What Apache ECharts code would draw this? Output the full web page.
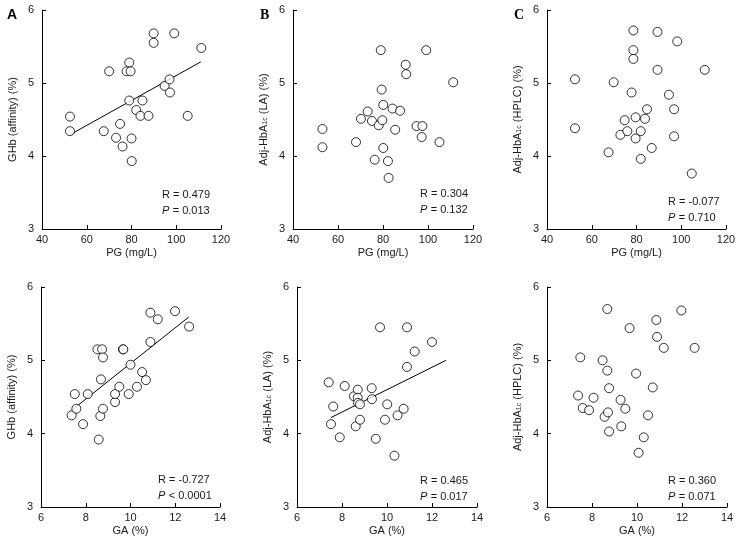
<!DOCTYPE html>
<html><head><meta charset="utf-8">
<script src="https://cdn.jsdelivr.net/npm/echarts@6/dist/echarts.min.js"></script>
<style>html,body{margin:0;padding:0;background:#fff}#c{width:744px;height:546px}</style>
</head><body><div id="c"></div>
<script>
// ---- data ----
const pgTicks = [40, 60, 80, 100, 120];
const gaTicks = [6, 8, 10, 12, 14];
const yTicks = [3, 4, 5, 6];

// Panel A: PG vs GHb (affinity)
const A_x = [52.5,52.5,70,67.6,74.9,73.1,76,79,77.8,79.6,79,80,80.1,82.1,84.9,84,87.6,89.9,89.9,94.8,97,97.2,99.1,105.1,111.2];
const A_y = [4.54,4.34,5.16,4.34,4.44,4.25,4.13,5.28,5.16,5.16,4.76,4.24,3.93,4.63,4.76,4.55,4.55,5.68,5.55,4.96,5.05,4.87,5.68,4.55,5.48];
const A_fitX = [53, 111];
const A_fitY = [4.30, 5.29];

// Panel B: PG vs Adj-HbA1c (LA)
const B_x = [53.1,53.1,68,70.2,73.2,75.1,76.3,78.1,79,79.4,79.7,80.1,80.1,82.2,82.5,84.2,85.4,87.6,90.1,90.3,94.9,97.5,97.2,99.2,105.1,111.2];
const B_y = [4.37,4.12,4.19,4.51,4.61,4.48,3.95,4.42,5.45,4.91,4.49,4.70,4.11,3.93,3.70,4.65,4.36,4.62,5.25,5.12,4.41,4.41,4.26,5.45,4.19,5.01];

// Panel C: PG vs Adj-HbA1c (HPLC)
const C_x = [52.5,52.5,67.5,69.8,72.8,74.7,75.9,77.8,78.6,78.6,78.6,79.6,79.6,81.9,81.9,83.8,84.7,86.8,89.4,89.4,94.5,96.8,96.8,98.2,104.7,110.5];
const C_y = [5.05,4.38,4.05,5.01,4.29,4.49,4.34,4.87,5.72,5.45,5.33,4.53,4.24,4.34,3.96,4.51,4.64,4.11,5.70,5.18,4.84,4.64,4.27,5.57,3.76,5.18];

// Panel D: GA vs GHb (affinity)
const D_x = [7.37,7.51,7.58,7.88,8.09,8.52,8.58,8.65,8.68,8.73,8.77,8.77,9.31,9.31,9.50,9.66,9.68,9.92,10.0,10.29,10.52,10.69,10.89,10.89,11.22,11.99,12.62];
const D_y = [4.25,4.54,4.34,4.13,4.54,5.15,3.92,4.24,4.74,5.15,5.04,4.34,4.43,4.54,4.64,5.15,5.15,4.54,4.94,4.64,4.84,4.73,5.25,5.65,5.56,5.67,5.46];
const D_fitX = [7.42, 12.6];
const D_fitY = [4.33, 5.59];

// Panel E: GA vs Adj-HbA1c (LA)
const E_x = [7.41,7.51,7.61,7.90,8.12,8.53,8.61,8.70,8.70,8.71,8.80,8.80,9.32,9.33,9.50,9.69,9.91,10.01,10.33,10.47,10.74,10.89,10.89,11.23,12.0];
const E_y = [4.70,4.13,4.37,3.95,4.65,4.51,4.10,4.60,4.49,4.42,4.40,4.19,4.62,4.47,3.93,5.45,4.19,4.40,3.70,4.25,4.34,4.91,5.45,5.12,5.25];
const E_fitX = [7.51, 12.62];
const E_fitY = [4.22, 5.0];

// Panel F: GA vs Adj-HbA1c (HPLC)
const F_x = [7.38,7.48,7.59,7.87,8.07,8.47,8.56,8.68,8.68,8.71,8.76,8.76,9.27,9.30,9.48,9.67,9.96,10.07,10.30,10.49,10.70,10.86,10.89,11.19,11.97,12.56];
const F_y = [4.52,5.04,4.35,4.32,4.49,5.00,4.23,5.70,4.86,4.29,4.62,4.03,4.46,4.10,4.34,5.44,4.82,3.74,3.95,4.25,4.63,5.55,5.32,5.17,5.68,5.17];

const panelLetters = ['A', 'B', 'C'];
const statsR = ['R = 0.479', 'R = 0.304', 'R = -0.077', 'R = -0.727', 'R = 0.465', 'R = 0.360'];
const statsP = ['= 0.013', '= 0.132', '= 0.710', '< 0.0001', '= 0.017', '= 0.071'];
const xNames = ['PG (mg/L)', 'PG (mg/L)', 'PG (mg/L)', 'GA (%)', 'GA (%)', 'GA (%)'];
const yNames = [
  'GHb (affinity) (%)',
  '{a|Adj-HbA}{s|1c}{a| (LA) (%)}',
  '{a|Adj-HbA}{s|1c}{a| (HPLC) (%)}',
  'GHb (affinity) (%)',
  '{a|Adj-HbA}{s|1c}{a| (LA) (%)}',
  '{a|Adj-HbA}{s|1c}{a| (HPLC) (%)}'
];

// ---- layout ----
const FONT = 'Liberation Sans';
const TXT = '#1a1a1a';
const grids = [
  {left: 42, top: 10, width: 179, height: 219},
  {left: 293, top: 10, width: 180, height: 219},
  {left: 547, top: 10, width: 179, height: 219},
  {left: 41, top: 287, width: 179, height: 220},
  {left: 297, top: 287, width: 180, height: 220},
  {left: 547, top: 287, width: 180, height: 220}
];
const xs = [A_x, B_x, C_x, D_x, E_x, F_x];
const ys = [A_y, B_y, C_y, D_y, E_y, F_y];
const fits = {0: [A_fitX, A_fitY], 3: [D_fitX, D_fitY], 4: [E_fitX, E_fitY]};

const axisLine = {show: true, onZero: false, lineStyle: {color: '#000', width: 1}};
const axisTick = {show: true, inside: true, length: 4, lineStyle: {color: '#000', width: 1}};

const xAxis = [], yAxis = [], series = [];
for (let i = 0; i < 6; i++) {
  const ticks = i < 3 ? pgTicks : gaTicks;
  xAxis.push({
    type: 'value', gridIndex: i, min: ticks[0], max: ticks[ticks.length - 1],
    interval: ticks[1] - ticks[0],
    axisLine, axisTick, splitLine: {show: false},
    axisLabel: {color: TXT, fontFamily: FONT, fontSize: 11, margin: 5},
    name: xNames[i], nameLocation: 'middle', nameGap: 18,
    nameTextStyle: {color: TXT, fontFamily: FONT, fontSize: 11}
  });
  yAxis.push({
    type: 'value', gridIndex: i, min: yTicks[0], max: yTicks[yTicks.length - 1], interval: 1,
    axisLine, axisTick, splitLine: {show: false},
    axisLabel: {color: TXT, fontFamily: FONT, fontSize: 11, margin: 8},
    name: yNames[i], nameLocation: 'middle', nameGap: 24, nameRotate: 90,
    nameTextStyle: {color: TXT, fontFamily: FONT, fontSize: 11,
      rich: {a: {color: TXT, fontFamily: FONT, fontSize: 11}, s: {color: TXT, fontFamily: FONT, fontSize: 7, verticalAlign: 'bottom', padding: [4, 0, 0, 0]}}}
  });
  series.push({
    type: 'scatter', xAxisIndex: i, yAxisIndex: i,
    data: xs[i].map((v, k) => [v, ys[i][k]]),
    symbol: 'circle', symbolSize: 9,
    itemStyle: {color: '#fff', borderColor: '#000', borderWidth: 1},
    silent: true, z: 3
  });
  if (fits[i]) {
    series.push({
      type: 'line', xAxisIndex: i, yAxisIndex: i,
      data: fits[i][0].map((v, k) => [v, fits[i][1][k]]),
      symbol: 'none', lineStyle: {color: '#000', width: 1}, silent: true, z: 2
    });
  }
}

const graphic = [];
const letterPos = [[7, 8, 'Liberation Sans'], [260, 8, 'Liberation Serif'], [514, 8, 'Liberation Serif']];
panelLetters.forEach((L, k) => {
  graphic.push({type: 'text', left: letterPos[k][0], top: letterPos[k][1],
    style: {text: L, fill: '#000', font: 'bold 14px "' + letterPos[k][2] + '"'}});
});
const statPos = [[162, 189], [420, 188], [668, 196], [158, 474], [420, 475], [668, 475]];
const lineGap = 16;
for (let i = 0; i < 6; i++) {
  const [x, y] = statPos[i];
  graphic.push({type: 'text', left: x, top: y, style: {text: statsR[i], fill: TXT, font: '11px "' + FONT + '"'}});
  graphic.push({type: 'text', left: x, top: y + lineGap, style: {
    text: '{i|P} {n|' + statsP[i] + '}', fill: TXT,
    rich: {i: {fontStyle: 'italic', fontFamily: FONT, fontSize: 11, fill: TXT}, n: {fontFamily: FONT, fontSize: 11, fill: TXT}}
  }});
}

const chart = echarts.init(document.getElementById('c'), null, {renderer: 'canvas'});
chart.setOption({
  backgroundColor: '#fff', animation: false,
  grid: grids, xAxis, yAxis, series, graphic
});
</script>
</body></html>
